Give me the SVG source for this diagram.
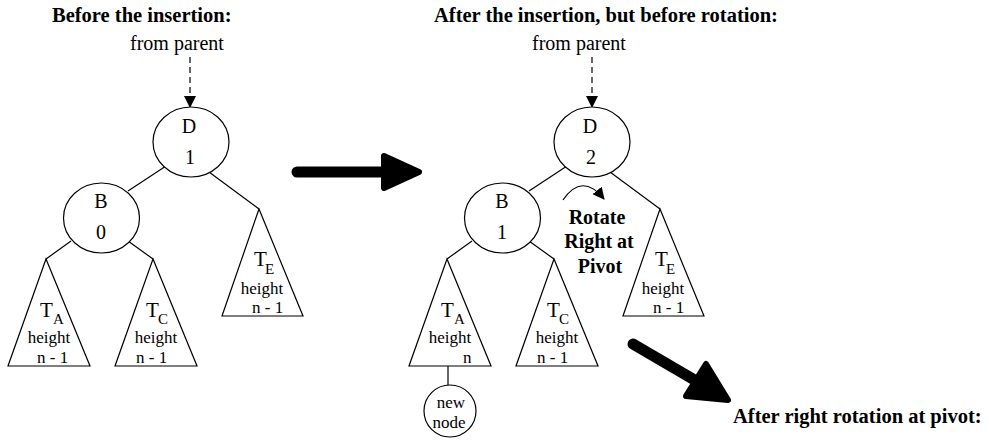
<svg xmlns="http://www.w3.org/2000/svg" width="989" height="444" viewBox="0 0 989 444">
<style>
  text { font-family: "Liberation Serif", "Times New Roman", serif; fill: #000; }
  .title { font-weight: bold; font-size: 20.5px; }
  .lbl { font-size: 20px; }
  .big { font-size: 21px; }
  .sub { font-size: 15px; }
  .sm { font-size: 17px; }
  .bold { font-weight: bold; font-size: 20px; }
  .shape { fill: #fff; stroke: #000; stroke-width: 1.2; }
  .edge { fill: none; stroke: #000; stroke-width: 1.2; }
  .dash { fill: none; stroke: #000; stroke-width: 1.2; stroke-dasharray: 6 4; }
  .shaft { fill: none; stroke: #000; stroke-width: 11; stroke-linecap: round; }
  .head { fill: #000; stroke: #000; stroke-width: 6; stroke-linejoin: round; }
</style>
<defs>
  <marker id="arr" viewBox="0 0 12 12" refX="11" refY="6" markerWidth="12" markerHeight="12" markerUnits="userSpaceOnUse" orient="auto">
    <path d="M0,0 L12,6 L0,12 z" fill="#000"/>
  </marker>
</defs>

<!-- titles -->
<text class="title" x="52" y="22">Before the insertion:</text>
<text class="title" x="434" y="22">After the insertion, but before rotation:</text>
<text class="title" x="733" y="423">After right rotation at pivot:</text>

<!-- connectors -->
<g id="connectors">
  <text class="lbl" x="130" y="50">from parent</text>
  <line class="dash" x1="190" y1="57" x2="190" y2="96"/>
  <path d="M184,96 L196,96 L190,108 z" fill="#000"/>
  <line class="edge" x1="166" y1="166" x2="128" y2="191"/>
  <line class="edge" x1="209" y1="172" x2="259" y2="209"/>
  <line class="edge" x1="71" y1="241" x2="46" y2="259"/>
  <line class="edge" x1="128" y1="241" x2="153" y2="259"/>

  <text class="lbl" x="532" y="50">from parent</text>
  <line class="dash" x1="592" y1="57" x2="592" y2="96"/>
  <path d="M586,96 L598,96 L592,108 z" fill="#000"/>
  <line class="edge" x1="567" y1="166" x2="529" y2="191"/>
  <line class="edge" x1="610" y1="172" x2="660" y2="209"/>
  <line class="edge" x1="472" y1="241" x2="447" y2="259"/>
  <line class="edge" x1="529" y1="241" x2="554" y2="259"/>
  <line class="edge" x1="448" y1="366" x2="448" y2="385"/>

  <path class="edge" d="M563,200 Q582,172 604,199" marker-end="url(#arr)"/>

  <line class="shaft" x1="297" y1="172" x2="386" y2="172"/>
  <polygon class="head" points="384,156 419,172 384,188"/>

  <line class="shaft" x1="633" y1="344" x2="698" y2="382"/>
  <polygon class="head" points="686,396 706,364 728,400"/>
</g>

<!-- left tree -->
<g id="D-before">
  <ellipse class="shape" cx="191" cy="142" rx="38" ry="35"/>
  <text class="lbl" x="189" y="133" text-anchor="middle">D</text>
  <text class="lbl" x="190" y="164" text-anchor="middle">1</text>
</g>
<g id="B-before">
  <ellipse class="shape" cx="101.5" cy="218" rx="38" ry="35"/>
  <text class="lbl" x="101" y="208" text-anchor="middle">B</text>
  <text class="lbl" x="101" y="239" text-anchor="middle">0</text>
</g>
<g id="TA-before">
  <polygon class="shape" points="46,259 8,366 90,366"/>
  <text class="big" x="40" y="317">T</text><text class="sub" x="53" y="324">A</text>
  <text class="sm" x="49" y="343" text-anchor="middle">height</text>
  <text class="sm" x="37" y="363">n - 1</text>
</g>
<g id="TC-before">
  <polygon class="shape" points="153,259 115,366 197,366"/>
  <text class="big" x="146" y="317">T</text><text class="sub" x="158" y="324">C</text>
  <text class="sm" x="156" y="343" text-anchor="middle">height</text>
  <text class="sm" x="136" y="363">n - 1</text>
</g>
<g id="TE-before">
  <polygon class="shape" points="259,209 222,316 303,316"/>
  <text class="big" x="254" y="266">T</text><text class="sub" x="265" y="274">E</text>
  <text class="sm" x="262" y="294" text-anchor="middle">height</text>
  <text class="sm" x="252" y="313">n - 1</text>
</g>

<!-- right tree -->
<g id="D-after">
  <ellipse class="shape" cx="592" cy="142" rx="38" ry="35"/>
  <text class="lbl" x="590" y="133" text-anchor="middle">D</text>
  <text class="lbl" x="591" y="164" text-anchor="middle">2</text>
</g>
<g id="B-after">
  <ellipse class="shape" cx="502.5" cy="218" rx="38" ry="35"/>
  <text class="lbl" x="502" y="208" text-anchor="middle">B</text>
  <text class="lbl" x="502" y="239" text-anchor="middle">1</text>
</g>
<g id="TA-after">
  <polygon class="shape" points="447,259 409,366 491,366"/>
  <text class="big" x="441" y="317">T</text><text class="sub" x="454" y="324">A</text>
  <text class="sm" x="450" y="343" text-anchor="middle">height</text>
  <text class="sm" x="463" y="363">n</text>
</g>
<g id="TC-after">
  <polygon class="shape" points="554,259 516,366 598,366"/>
  <text class="big" x="547" y="317">T</text><text class="sub" x="559" y="324">C</text>
  <text class="sm" x="557" y="343" text-anchor="middle">height</text>
  <text class="sm" x="537" y="363">n - 1</text>
</g>
<g id="TE-after">
  <polygon class="shape" points="660,209 623,316 704,316"/>
  <text class="big" x="655" y="266">T</text><text class="sub" x="666" y="274">E</text>
  <text class="sm" x="663" y="294" text-anchor="middle">height</text>
  <text class="sm" x="653" y="313">n - 1</text>
</g>
<g id="new-node">
  <circle class="shape" cx="450" cy="411" r="26"/>
  <text class="sm" x="451" y="408" text-anchor="middle">new</text>
  <text class="sm" x="449" y="428" text-anchor="middle">node</text>
</g>
<g id="rotate-label">
  <text class="bold" x="597" y="224" text-anchor="middle">Rotate</text>
  <text class="bold" x="599" y="248" text-anchor="middle">Right at</text>
  <text class="bold" x="600" y="273" text-anchor="middle">Pivot</text>
</g>
</svg>
